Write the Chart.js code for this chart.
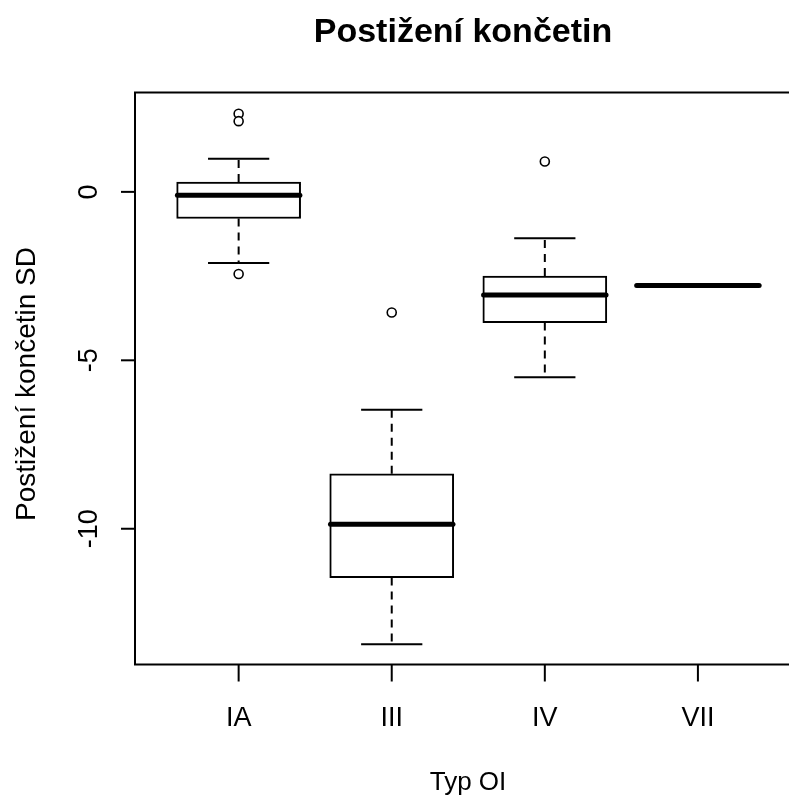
<!DOCTYPE html>
<html>
<head>
<meta charset="utf-8">
<title>Postižení končetin</title>
<script src="https://cdn.jsdelivr.net/npm/chart.js@4.4.1/dist/chart.umd.min.js"></script>
<style>
  html, body { margin: 0; padding: 0; background: #fff; }
  canvas { display: block; }
</style>
</head>
<body>
<canvas id="chart" width="789" height="801"></canvas>
<script>
// krabicový graf: postižení končetin (SD) podle typu OI
var categories = ["IA", "III", "IV", "VII"];
var positions = [1, 2, 3, 4];
var lowerWhisker = [-2.11, -13.43, -5.50, -2.78];
var lowerQuartile = [-0.79, -11.45, -3.88, -2.78];
var medians = [-0.10, -9.87, -3.06, -2.78];
var upperQuartile = [0.29, -8.37, -2.50, -2.78];
var upperWhisker = [0.98, -6.47, -1.38, -2.78];
// odlehlé hodnoty: skupina (pozice) + hodnota
var outlierGroup = [1, 1, 1, 2, 3];
var outlierValues = [2.32, 2.10, -2.44, -3.58, 0.90];
var yTicks = [0, -5, -10];

var FONT = '"Liberation Sans", Arial, Helvetica, sans-serif';
var BOX_WIDTH = 0.8; // šířka krabice v jednotkách osy x

// vousy, zarážky a mediány
var boxplotPlugin = {
  id: "boxplot",
  afterDatasetsDraw: function (chart) {
    var ctx = chart.ctx;
    var xs = chart.scales.x, ys = chart.scales.y;
    var half = (xs.getPixelForValue(2) - xs.getPixelForValue(1)) * BOX_WIDTH / 2;
    ctx.save();
    ctx.strokeStyle = "#000";
    positions.forEach(function (p, i) {
      var cx = xs.getPixelForValue(p);
      var yHi = ys.getPixelForValue(upperWhisker[i]);
      var yLo = ys.getPixelForValue(lowerWhisker[i]);
      ctx.lineWidth = 2;
      ctx.lineCap = "butt";
      ctx.setLineDash([8, 6]);
      ctx.beginPath();
      ctx.moveTo(cx, ys.getPixelForValue(upperQuartile[i]));
      ctx.lineTo(cx, yHi);
      ctx.moveTo(cx, ys.getPixelForValue(lowerQuartile[i]));
      ctx.lineTo(cx, yLo);
      ctx.stroke();
      ctx.setLineDash([]);
      ctx.beginPath();
      ctx.moveTo(cx - half / 2, yHi);
      ctx.lineTo(cx + half / 2, yHi);
      ctx.moveTo(cx - half / 2, yLo);
      ctx.lineTo(cx + half / 2, yLo);
      ctx.stroke();
      var ym = ys.getPixelForValue(medians[i]);
      ctx.lineWidth = 5;
      ctx.lineCap = "round";
      ctx.beginPath();
      ctx.moveTo(cx - half, ym);
      ctx.lineTo(cx + half, ym);
      ctx.stroke();
    });
    ctx.restore();
  }
};

// rámeček, osy, popisky a nadpis ve stylu R
var axesPlugin = {
  id: "rAxes",
  afterDraw: function (chart) {
    var ctx = chart.ctx;
    var a = chart.chartArea;
    var xs = chart.scales.x, ys = chart.scales.y;
    ctx.save();
    ctx.strokeStyle = "#000";
    ctx.fillStyle = "#000";
    ctx.lineWidth = 2;
    ctx.beginPath();
    ctx.moveTo(chart.width, a.top);
    ctx.lineTo(a.left, a.top);
    ctx.lineTo(a.left, a.bottom);
    ctx.lineTo(chart.width, a.bottom);
    ctx.stroke();

    // osa y
    ctx.font = "27px " + FONT;
    ctx.textAlign = "center";
    ctx.textBaseline = "alphabetic";
    yTicks.forEach(function (v) {
      var y = ys.getPixelForValue(v);
      ctx.beginPath();
      ctx.moveTo(a.left, y);
      ctx.lineTo(a.left - 14, y);
      ctx.stroke();
      ctx.save();
      ctx.translate(97, y);
      ctx.rotate(-Math.PI / 2);
      ctx.fillText(String(v), 0, 0);
      ctx.restore();
    });

    // osa x
    positions.forEach(function (p, i) {
      var x = xs.getPixelForValue(p);
      ctx.beginPath();
      ctx.moveTo(x, a.bottom);
      ctx.lineTo(x, a.bottom + 17);
      ctx.stroke();
      ctx.fillText(categories[i], x, 726);
    });

    ctx.font = "26px " + FONT;
    ctx.fillText("Typ OI", 468, 790);

    ctx.save();
    ctx.font = "28px " + FONT;
    ctx.translate(35, 384);
    ctx.rotate(-Math.PI / 2);
    ctx.fillText("Postižení končetin SD", 0, 0);
    ctx.restore();

    ctx.font = "bold 34px " + FONT;
    ctx.fillText("Postižení končetin", 463, 42);
    ctx.restore();
  }
};

new Chart(document.getElementById("chart"), {
  type: "bar",
  data: {
    datasets: [
      {
        type: "bar",
        data: positions.map(function (p, i) {
          return { x: p, y: [lowerQuartile[i], upperQuartile[i]] };
        }),
        backgroundColor: "#fff",
        borderColor: "#000",
        borderWidth: 2,
        borderSkipped: false,
        barThickness: 124
      },
      {
        type: "scatter",
        data: outlierValues.map(function (v, i) {
          return { x: outlierGroup[i], y: v };
        }),
        pointStyle: "circle",
        pointRadius: 4.5,
        pointBorderWidth: 1.6,
        pointBackgroundColor: "#fff",
        pointBorderColor: "#000"
      }
    ]
  },
  options: {
    responsive: false,
    animation: false,
    layout: {
      autoPadding: false,
      padding: { left: 135, top: 92.5, right: 0, bottom: 136.5 }
    },
    scales: {
      x: { type: "linear", offset: false, min: 0.323, max: 4.595, display: false },
      y: { type: "linear", offset: false, min: -14.03, max: 2.95, display: false }
    },
    plugins: {
      legend: { display: false },
      tooltip: { enabled: false },
      title: { display: false }
    }
  },
  plugins: [boxplotPlugin, axesPlugin]
});
</script>
</body>
</html>
